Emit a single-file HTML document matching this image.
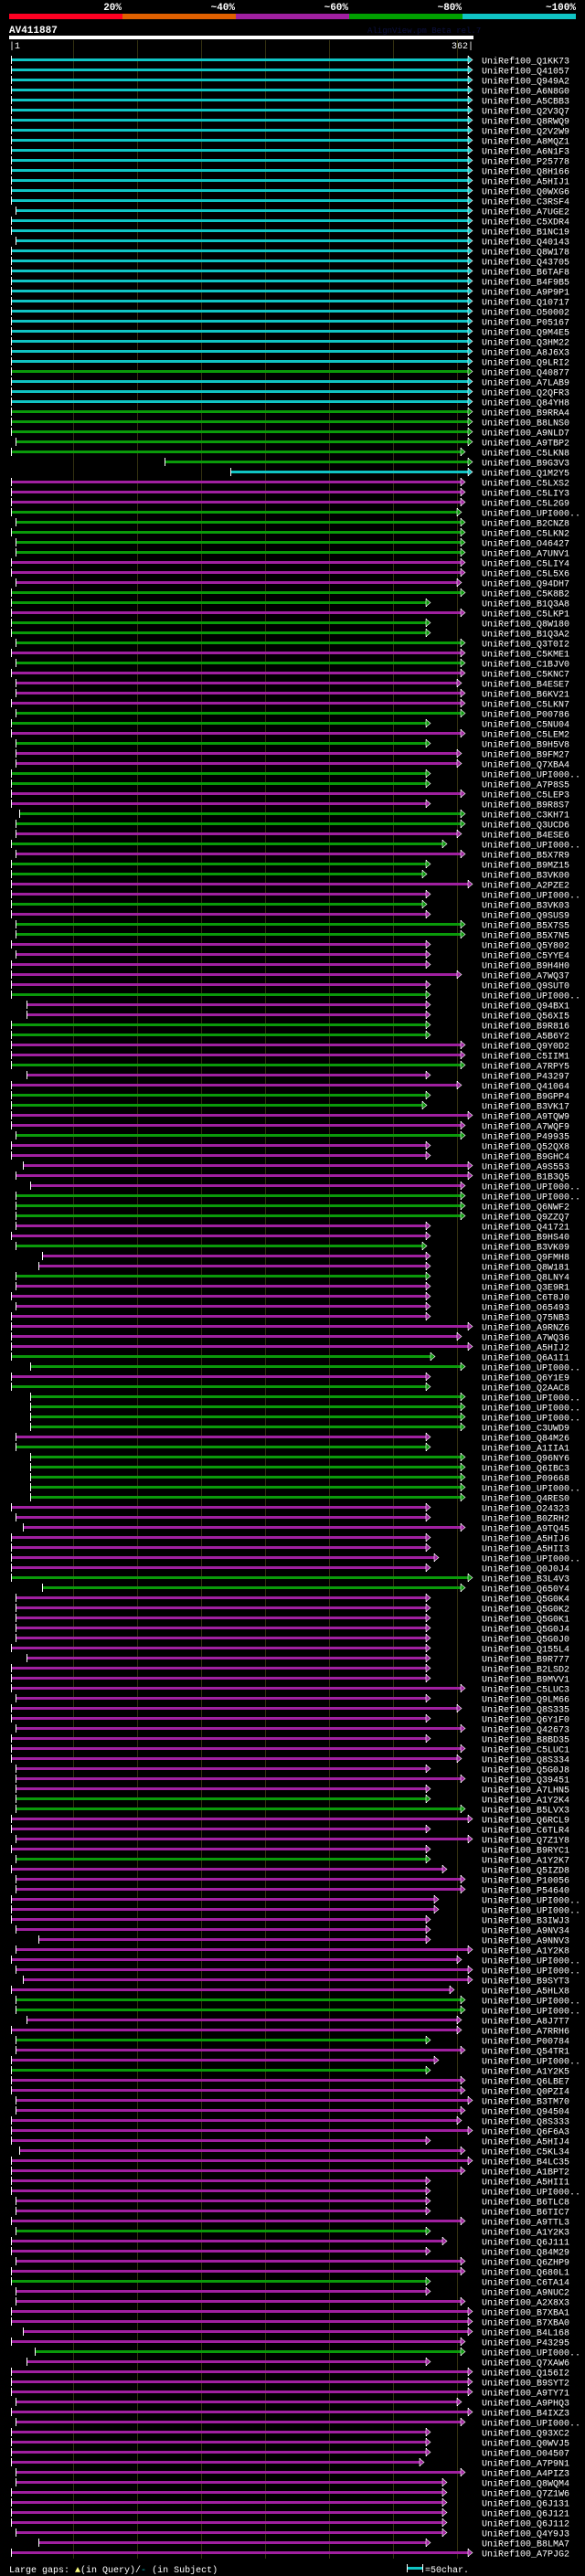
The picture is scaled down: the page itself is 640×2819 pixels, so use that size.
<!DOCTYPE html>
<html><head><meta charset="utf-8"><style>
body{margin:0;background:#000;width:640px;height:2819px;overflow:hidden}
svg{display:block}
text{font-family:"Liberation Mono",monospace;font-size:10px;fill:#fff}
.r rect.b{y:-1.5px;height:3px}
.r rect.t{y:-4.5px;height:9px;width:1px;fill:#fff}
.r text{font-size:10px}
.c rect.b,.c path{fill:#10c4c4}
.g rect.b,.g path{fill:#0a9a0a}
.m rect.b,.m path{fill:#a020a0}
path{stroke:#fff;stroke-width:0.6}
</style></head><body>
<svg width="640" height="2819" xmlns="http://www.w3.org/2000/svg">
<rect width="640" height="2819" fill="#000"/>
<g font-weight="bold" style="font-size:11px">
<text x="133" y="11" text-anchor="end" style="font-weight:bold;font-size:11px">20%</text>
<text x="257" y="11" text-anchor="end" style="font-weight:bold;font-size:11px">~40%</text>
<text x="381" y="11" text-anchor="end" style="font-weight:bold;font-size:11px">~60%</text>
<text x="505" y="11" text-anchor="end" style="font-weight:bold;font-size:11px">~80%</text>
<text x="630" y="11" text-anchor="end" style="font-weight:bold;font-size:11px">~100%</text>
</g>
<rect x="10" y="15" width="124" height="6" fill="#ff0022"/>
<rect x="134" y="15" width="124" height="6" fill="#e06000"/>
<rect x="258" y="15" width="124" height="6" fill="#a020a0"/>
<rect x="382" y="15" width="124" height="6" fill="#00a000"/>
<rect x="506" y="15" width="124" height="6" fill="#10c4c4"/>
<text x="10" y="36" style="font-weight:bold;font-size:11px">AV411887</text>
<text x="402" y="36" style="fill:#0c1040;font-size:9px">AlignView.pm Beta rel.7</text>
<rect x="10" y="39" width="508" height="4" fill="#fff"/>
<text x="10" y="53">|1</text>
<text x="518" y="53" text-anchor="end">362|</text>
<g stroke="#333010" stroke-width="1">
<line x1="80.5" y1="44" x2="80.5" y2="2800"/><line x1="150.5" y1="44" x2="150.5" y2="2800"/>
<line x1="220.5" y1="44" x2="220.5" y2="2800"/><line x1="290.5" y1="44" x2="290.5" y2="2800"/>
<line x1="360.5" y1="44" x2="360.5" y2="2800"/><line x1="430.5" y1="44" x2="430.5" y2="2800"/>
<line x1="500.5" y1="44" x2="500.5" y2="2800"/>
</g>
<g id="rows">
<g class="r c" transform="translate(0,65.5)"><rect class="b" x="12" width="500"/><rect class="t" x="12"/><rect class="t" x="512"/><path d="M512 -4v8l5 -4z"/><text x="527" y="4">UniRef100_Q1KK73</text></g>
<g class="r c" transform="translate(0,76.5)"><rect class="b" x="12" width="500"/><rect class="t" x="12"/><rect class="t" x="512"/><path d="M512 -4v8l5 -4z"/><text x="527" y="4">UniRef100_Q41057</text></g>
<g class="r c" transform="translate(0,87.5)"><rect class="b" x="12" width="500"/><rect class="t" x="12"/><rect class="t" x="512"/><path d="M512 -4v8l5 -4z"/><text x="527" y="4">UniRef100_Q949A2</text></g>
<g class="r c" transform="translate(0,98.5)"><rect class="b" x="12" width="500"/><rect class="t" x="12"/><rect class="t" x="512"/><path d="M512 -4v8l5 -4z"/><text x="527" y="4">UniRef100_A6N8G0</text></g>
<g class="r c" transform="translate(0,109.5)"><rect class="b" x="12" width="500"/><rect class="t" x="12"/><rect class="t" x="512"/><path d="M512 -4v8l5 -4z"/><text x="527" y="4">UniRef100_A5CBB3</text></g>
<g class="r c" transform="translate(0,120.5)"><rect class="b" x="12" width="500"/><rect class="t" x="12"/><rect class="t" x="512"/><path d="M512 -4v8l5 -4z"/><text x="527" y="4">UniRef100_Q2V3Q7</text></g>
<g class="r c" transform="translate(0,131.5)"><rect class="b" x="12" width="500"/><rect class="t" x="12"/><rect class="t" x="512"/><path d="M512 -4v8l5 -4z"/><text x="527" y="4">UniRef100_Q8RWQ9</text></g>
<g class="r c" transform="translate(0,142.5)"><rect class="b" x="12" width="500"/><rect class="t" x="12"/><rect class="t" x="512"/><path d="M512 -4v8l5 -4z"/><text x="527" y="4">UniRef100_Q2V2W9</text></g>
<g class="r c" transform="translate(0,153.5)"><rect class="b" x="12" width="500"/><rect class="t" x="12"/><rect class="t" x="512"/><path d="M512 -4v8l5 -4z"/><text x="527" y="4">UniRef100_A8MQZ1</text></g>
<g class="r c" transform="translate(0,164.5)"><rect class="b" x="12" width="500"/><rect class="t" x="12"/><rect class="t" x="512"/><path d="M512 -4v8l5 -4z"/><text x="527" y="4">UniRef100_A6N1F3</text></g>
<g class="r c" transform="translate(0,175.5)"><rect class="b" x="12" width="500"/><rect class="t" x="12"/><rect class="t" x="512"/><path d="M512 -4v8l5 -4z"/><text x="527" y="4">UniRef100_P25778</text></g>
<g class="r c" transform="translate(0,186.5)"><rect class="b" x="12" width="500"/><rect class="t" x="12"/><rect class="t" x="512"/><path d="M512 -4v8l5 -4z"/><text x="527" y="4">UniRef100_Q8H166</text></g>
<g class="r c" transform="translate(0,197.5)"><rect class="b" x="12" width="500"/><rect class="t" x="12"/><rect class="t" x="512"/><path d="M512 -4v8l5 -4z"/><text x="527" y="4">UniRef100_A5HIJ1</text></g>
<g class="r c" transform="translate(0,208.5)"><rect class="b" x="12" width="500"/><rect class="t" x="12"/><rect class="t" x="512"/><path d="M512 -4v8l5 -4z"/><text x="527" y="4">UniRef100_Q0WXG6</text></g>
<g class="r c" transform="translate(0,219.5)"><rect class="b" x="12" width="500"/><rect class="t" x="12"/><rect class="t" x="512"/><path d="M512 -4v8l5 -4z"/><text x="527" y="4">UniRef100_C3RSF4</text></g>
<g class="r c" transform="translate(0,230.5)"><rect class="b" x="17" width="495"/><rect class="t" x="17"/><rect class="t" x="512"/><path d="M512 -4v8l5 -4z"/><text x="527" y="4">UniRef100_A7UGE2</text></g>
<g class="r c" transform="translate(0,241.5)"><rect class="b" x="12" width="500"/><rect class="t" x="12"/><rect class="t" x="512"/><path d="M512 -4v8l5 -4z"/><text x="527" y="4">UniRef100_C5XDR4</text></g>
<g class="r c" transform="translate(0,252.5)"><rect class="b" x="12" width="500"/><rect class="t" x="12"/><rect class="t" x="512"/><path d="M512 -4v8l5 -4z"/><text x="527" y="4">UniRef100_B1NC19</text></g>
<g class="r c" transform="translate(0,263.5)"><rect class="b" x="17" width="495"/><rect class="t" x="17"/><rect class="t" x="512"/><path d="M512 -4v8l5 -4z"/><text x="527" y="4">UniRef100_Q40143</text></g>
<g class="r c" transform="translate(0,274.5)"><rect class="b" x="12" width="500"/><rect class="t" x="12"/><rect class="t" x="512"/><path d="M512 -4v8l5 -4z"/><text x="527" y="4">UniRef100_Q8W178</text></g>
<g class="r c" transform="translate(0,285.5)"><rect class="b" x="12" width="500"/><rect class="t" x="12"/><rect class="t" x="512"/><path d="M512 -4v8l5 -4z"/><text x="527" y="4">UniRef100_Q43705</text></g>
<g class="r c" transform="translate(0,296.5)"><rect class="b" x="12" width="500"/><rect class="t" x="12"/><rect class="t" x="512"/><path d="M512 -4v8l5 -4z"/><text x="527" y="4">UniRef100_B6TAF8</text></g>
<g class="r c" transform="translate(0,307.5)"><rect class="b" x="12" width="500"/><rect class="t" x="12"/><rect class="t" x="512"/><path d="M512 -4v8l5 -4z"/><text x="527" y="4">UniRef100_B4F9B5</text></g>
<g class="r c" transform="translate(0,318.5)"><rect class="b" x="12" width="500"/><rect class="t" x="12"/><rect class="t" x="512"/><path d="M512 -4v8l5 -4z"/><text x="527" y="4">UniRef100_A9P9P1</text></g>
<g class="r c" transform="translate(0,329.5)"><rect class="b" x="12" width="500"/><rect class="t" x="12"/><rect class="t" x="512"/><path d="M512 -4v8l5 -4z"/><text x="527" y="4">UniRef100_Q10717</text></g>
<g class="r c" transform="translate(0,340.5)"><rect class="b" x="12" width="500"/><rect class="t" x="12"/><rect class="t" x="512"/><path d="M512 -4v8l5 -4z"/><text x="527" y="4">UniRef100_O50002</text></g>
<g class="r c" transform="translate(0,351.5)"><rect class="b" x="12" width="500"/><rect class="t" x="12"/><rect class="t" x="512"/><path d="M512 -4v8l5 -4z"/><text x="527" y="4">UniRef100_P05167</text></g>
<g class="r c" transform="translate(0,362.5)"><rect class="b" x="12" width="500"/><rect class="t" x="12"/><rect class="t" x="512"/><path d="M512 -4v8l5 -4z"/><text x="527" y="4">UniRef100_Q9M4E5</text></g>
<g class="r c" transform="translate(0,373.5)"><rect class="b" x="12" width="500"/><rect class="t" x="12"/><rect class="t" x="512"/><path d="M512 -4v8l5 -4z"/><text x="527" y="4">UniRef100_Q3HM22</text></g>
<g class="r c" transform="translate(0,384.5)"><rect class="b" x="12" width="500"/><rect class="t" x="12"/><rect class="t" x="512"/><path d="M512 -4v8l5 -4z"/><text x="527" y="4">UniRef100_A8J6X3</text></g>
<g class="r c" transform="translate(0,395.5)"><rect class="b" x="12" width="500"/><rect class="t" x="12"/><rect class="t" x="512"/><path d="M512 -4v8l5 -4z"/><text x="527" y="4">UniRef100_Q9LRI2</text></g>
<g class="r g" transform="translate(0,406.5)"><rect class="b" x="12" width="500"/><rect class="t" x="12"/><rect class="t" x="512"/><path d="M512 -4v8l5 -4z"/><text x="527" y="4">UniRef100_Q40877</text></g>
<g class="r c" transform="translate(0,417.5)"><rect class="b" x="12" width="500"/><rect class="t" x="12"/><rect class="t" x="512"/><path d="M512 -4v8l5 -4z"/><text x="527" y="4">UniRef100_A7LAB9</text></g>
<g class="r c" transform="translate(0,428.5)"><rect class="b" x="12" width="500"/><rect class="t" x="12"/><rect class="t" x="512"/><path d="M512 -4v8l5 -4z"/><text x="527" y="4">UniRef100_Q2QFR3</text></g>
<g class="r c" transform="translate(0,439.5)"><rect class="b" x="12" width="500"/><rect class="t" x="12"/><rect class="t" x="512"/><path d="M512 -4v8l5 -4z"/><text x="527" y="4">UniRef100_Q84YH8</text></g>
<g class="r g" transform="translate(0,450.5)"><rect class="b" x="12" width="500"/><rect class="t" x="12"/><rect class="t" x="512"/><path d="M512 -4v8l5 -4z"/><text x="527" y="4">UniRef100_B9RRA4</text></g>
<g class="r g" transform="translate(0,461.5)"><rect class="b" x="12" width="500"/><rect class="t" x="12"/><rect class="t" x="512"/><path d="M512 -4v8l5 -4z"/><text x="527" y="4">UniRef100_B8LNS0</text></g>
<g class="r g" transform="translate(0,472.5)"><rect class="b" x="12" width="500"/><rect class="t" x="12"/><rect class="t" x="512"/><path d="M512 -4v8l5 -4z"/><text x="527" y="4">UniRef100_A9NLD7</text></g>
<g class="r g" transform="translate(0,483.5)"><rect class="b" x="17" width="495"/><rect class="t" x="17"/><rect class="t" x="512"/><path d="M512 -4v8l5 -4z"/><text x="527" y="4">UniRef100_A9TBP2</text></g>
<g class="r g" transform="translate(0,494.5)"><rect class="b" x="12" width="492"/><rect class="t" x="12"/><rect class="t" x="504"/><path d="M504 -4v8l5 -4z"/><text x="527" y="4">UniRef100_C5LKN8</text></g>
<g class="r g" transform="translate(0,505.5)"><rect class="b" x="180" width="332"/><rect class="t" x="180"/><rect class="t" x="512"/><path d="M512 -4v8l5 -4z"/><text x="527" y="4">UniRef100_B9G3V3</text></g>
<g class="r c" transform="translate(0,516.5)"><rect class="b" x="252" width="260"/><rect class="t" x="252"/><rect class="t" x="512"/><path d="M512 -4v8l5 -4z"/><text x="527" y="4">UniRef100_Q1M2Y5</text></g>
<g class="r m" transform="translate(0,527.5)"><rect class="b" x="12" width="492"/><rect class="t" x="12"/><rect class="t" x="504"/><path d="M504 -4v8l5 -4z"/><text x="527" y="4">UniRef100_C5LXS2</text></g>
<g class="r m" transform="translate(0,538.5)"><rect class="b" x="12" width="492"/><rect class="t" x="12"/><rect class="t" x="504"/><path d="M504 -4v8l5 -4z"/><text x="527" y="4">UniRef100_C5LIY3</text></g>
<g class="r m" transform="translate(0,549.5)"><rect class="b" x="12" width="492"/><rect class="t" x="12"/><rect class="t" x="504"/><path d="M504 -4v8l5 -4z"/><text x="527" y="4">UniRef100_C5L2G9</text></g>
<g class="r g" transform="translate(0,560.5)"><rect class="b" x="12" width="488"/><rect class="t" x="12"/><rect class="t" x="500"/><path d="M500 -4v8l5 -4z"/><text x="527" y="4">UniRef100_UPI000..</text></g>
<g class="r g" transform="translate(0,571.5)"><rect class="b" x="17" width="487"/><rect class="t" x="17"/><rect class="t" x="504"/><path d="M504 -4v8l5 -4z"/><text x="527" y="4">UniRef100_B2CNZ8</text></g>
<g class="r g" transform="translate(0,582.5)"><rect class="b" x="12" width="492"/><rect class="t" x="12"/><rect class="t" x="504"/><path d="M504 -4v8l5 -4z"/><text x="527" y="4">UniRef100_C5LKN2</text></g>
<g class="r g" transform="translate(0,593.5)"><rect class="b" x="17" width="487"/><rect class="t" x="17"/><rect class="t" x="504"/><path d="M504 -4v8l5 -4z"/><text x="527" y="4">UniRef100_O46427</text></g>
<g class="r g" transform="translate(0,604.5)"><rect class="b" x="17" width="487"/><rect class="t" x="17"/><rect class="t" x="504"/><path d="M504 -4v8l5 -4z"/><text x="527" y="4">UniRef100_A7UNV1</text></g>
<g class="r m" transform="translate(0,615.5)"><rect class="b" x="12" width="492"/><rect class="t" x="12"/><rect class="t" x="504"/><path d="M504 -4v8l5 -4z"/><text x="527" y="4">UniRef100_C5LIY4</text></g>
<g class="r m" transform="translate(0,626.5)"><rect class="b" x="12" width="492"/><rect class="t" x="12"/><rect class="t" x="504"/><path d="M504 -4v8l5 -4z"/><text x="527" y="4">UniRef100_C5L5X6</text></g>
<g class="r m" transform="translate(0,637.5)"><rect class="b" x="17" width="483"/><rect class="t" x="17"/><rect class="t" x="500"/><path d="M500 -4v8l5 -4z"/><text x="527" y="4">UniRef100_Q94DH7</text></g>
<g class="r g" transform="translate(0,648.5)"><rect class="b" x="12" width="492"/><rect class="t" x="12"/><rect class="t" x="504"/><path d="M504 -4v8l5 -4z"/><text x="527" y="4">UniRef100_C5K8B2</text></g>
<g class="r g" transform="translate(0,659.5)"><rect class="b" x="12" width="454"/><rect class="t" x="12"/><rect class="t" x="466"/><path d="M466 -4v8l5 -4z"/><text x="527" y="4">UniRef100_B1Q3A8</text></g>
<g class="r m" transform="translate(0,670.5)"><rect class="b" x="12" width="492"/><rect class="t" x="12"/><rect class="t" x="504"/><path d="M504 -4v8l5 -4z"/><text x="527" y="4">UniRef100_C5LKP1</text></g>
<g class="r g" transform="translate(0,681.5)"><rect class="b" x="12" width="454"/><rect class="t" x="12"/><rect class="t" x="466"/><path d="M466 -4v8l5 -4z"/><text x="527" y="4">UniRef100_Q8W180</text></g>
<g class="r g" transform="translate(0,692.5)"><rect class="b" x="12" width="454"/><rect class="t" x="12"/><rect class="t" x="466"/><path d="M466 -4v8l5 -4z"/><text x="527" y="4">UniRef100_B1Q3A2</text></g>
<g class="r g" transform="translate(0,703.5)"><rect class="b" x="17" width="487"/><rect class="t" x="17"/><rect class="t" x="504"/><path d="M504 -4v8l5 -4z"/><text x="527" y="4">UniRef100_Q3T0I2</text></g>
<g class="r m" transform="translate(0,714.5)"><rect class="b" x="12" width="492"/><rect class="t" x="12"/><rect class="t" x="504"/><path d="M504 -4v8l5 -4z"/><text x="527" y="4">UniRef100_C5KME1</text></g>
<g class="r g" transform="translate(0,725.5)"><rect class="b" x="17" width="487"/><rect class="t" x="17"/><rect class="t" x="504"/><path d="M504 -4v8l5 -4z"/><text x="527" y="4">UniRef100_C1BJV0</text></g>
<g class="r m" transform="translate(0,736.5)"><rect class="b" x="12" width="492"/><rect class="t" x="12"/><rect class="t" x="504"/><path d="M504 -4v8l5 -4z"/><text x="527" y="4">UniRef100_C5KNC7</text></g>
<g class="r m" transform="translate(0,747.5)"><rect class="b" x="17" width="483"/><rect class="t" x="17"/><rect class="t" x="500"/><path d="M500 -4v8l5 -4z"/><text x="527" y="4">UniRef100_B4ESE7</text></g>
<g class="r m" transform="translate(0,758.5)"><rect class="b" x="17" width="487"/><rect class="t" x="17"/><rect class="t" x="504"/><path d="M504 -4v8l5 -4z"/><text x="527" y="4">UniRef100_B6KV21</text></g>
<g class="r m" transform="translate(0,769.5)"><rect class="b" x="12" width="492"/><rect class="t" x="12"/><rect class="t" x="504"/><path d="M504 -4v8l5 -4z"/><text x="527" y="4">UniRef100_C5LKN7</text></g>
<g class="r g" transform="translate(0,780.5)"><rect class="b" x="17" width="487"/><rect class="t" x="17"/><rect class="t" x="504"/><path d="M504 -4v8l5 -4z"/><text x="527" y="4">UniRef100_P00786</text></g>
<g class="r g" transform="translate(0,791.5)"><rect class="b" x="12" width="454"/><rect class="t" x="12"/><rect class="t" x="466"/><path d="M466 -4v8l5 -4z"/><text x="527" y="4">UniRef100_C5NU04</text></g>
<g class="r m" transform="translate(0,802.5)"><rect class="b" x="12" width="492"/><rect class="t" x="12"/><rect class="t" x="504"/><path d="M504 -4v8l5 -4z"/><text x="527" y="4">UniRef100_C5LEM2</text></g>
<g class="r g" transform="translate(0,813.5)"><rect class="b" x="17" width="449"/><rect class="t" x="17"/><rect class="t" x="466"/><path d="M466 -4v8l5 -4z"/><text x="527" y="4">UniRef100_B9H5V8</text></g>
<g class="r m" transform="translate(0,824.5)"><rect class="b" x="17" width="483"/><rect class="t" x="17"/><rect class="t" x="500"/><path d="M500 -4v8l5 -4z"/><text x="527" y="4">UniRef100_B9FM27</text></g>
<g class="r m" transform="translate(0,835.5)"><rect class="b" x="17" width="483"/><rect class="t" x="17"/><rect class="t" x="500"/><path d="M500 -4v8l5 -4z"/><text x="527" y="4">UniRef100_Q7XBA4</text></g>
<g class="r g" transform="translate(0,846.5)"><rect class="b" x="12" width="454"/><rect class="t" x="12"/><rect class="t" x="466"/><path d="M466 -4v8l5 -4z"/><text x="527" y="4">UniRef100_UPI000..</text></g>
<g class="r g" transform="translate(0,857.5)"><rect class="b" x="12" width="454"/><rect class="t" x="12"/><rect class="t" x="466"/><path d="M466 -4v8l5 -4z"/><text x="527" y="4">UniRef100_A7P8S5</text></g>
<g class="r m" transform="translate(0,868.5)"><rect class="b" x="12" width="492"/><rect class="t" x="12"/><rect class="t" x="504"/><path d="M504 -4v8l5 -4z"/><text x="527" y="4">UniRef100_C5LEP3</text></g>
<g class="r m" transform="translate(0,879.5)"><rect class="b" x="12" width="454"/><rect class="t" x="12"/><rect class="t" x="466"/><path d="M466 -4v8l5 -4z"/><text x="527" y="4">UniRef100_B9R8S7</text></g>
<g class="r g" transform="translate(0,890.5)"><rect class="b" x="21" width="483"/><rect class="t" x="21"/><rect class="t" x="504"/><path d="M504 -4v8l5 -4z"/><text x="527" y="4">UniRef100_C3KH71</text></g>
<g class="r g" transform="translate(0,901.5)"><rect class="b" x="17" width="487"/><rect class="t" x="17"/><rect class="t" x="504"/><path d="M504 -4v8l5 -4z"/><text x="527" y="4">UniRef100_Q3UCD6</text></g>
<g class="r m" transform="translate(0,912.5)"><rect class="b" x="17" width="483"/><rect class="t" x="17"/><rect class="t" x="500"/><path d="M500 -4v8l5 -4z"/><text x="527" y="4">UniRef100_B4ESE6</text></g>
<g class="r g" transform="translate(0,923.5)"><rect class="b" x="12" width="472"/><rect class="t" x="12"/><rect class="t" x="484"/><path d="M484 -4v8l5 -4z"/><text x="527" y="4">UniRef100_UPI000..</text></g>
<g class="r m" transform="translate(0,934.5)"><rect class="b" x="17" width="487"/><rect class="t" x="17"/><rect class="t" x="504"/><path d="M504 -4v8l5 -4z"/><text x="527" y="4">UniRef100_B5X7R9</text></g>
<g class="r g" transform="translate(0,945.5)"><rect class="b" x="12" width="454"/><rect class="t" x="12"/><rect class="t" x="466"/><path d="M466 -4v8l5 -4z"/><text x="527" y="4">UniRef100_B9MZ15</text></g>
<g class="r g" transform="translate(0,956.5)"><rect class="b" x="12" width="450"/><rect class="t" x="12"/><rect class="t" x="462"/><path d="M462 -4v8l5 -4z"/><text x="527" y="4">UniRef100_B3VK00</text></g>
<g class="r m" transform="translate(0,967.5)"><rect class="b" x="12" width="500"/><rect class="t" x="12"/><rect class="t" x="512"/><path d="M512 -4v8l5 -4z"/><text x="527" y="4">UniRef100_A2PZE2</text></g>
<g class="r m" transform="translate(0,978.5)"><rect class="b" x="12" width="454"/><rect class="t" x="12"/><rect class="t" x="466"/><path d="M466 -4v8l5 -4z"/><text x="527" y="4">UniRef100_UPI000..</text></g>
<g class="r g" transform="translate(0,989.5)"><rect class="b" x="12" width="450"/><rect class="t" x="12"/><rect class="t" x="462"/><path d="M462 -4v8l5 -4z"/><text x="527" y="4">UniRef100_B3VK03</text></g>
<g class="r m" transform="translate(0,1000.5)"><rect class="b" x="12" width="454"/><rect class="t" x="12"/><rect class="t" x="466"/><path d="M466 -4v8l5 -4z"/><text x="527" y="4">UniRef100_Q9SUS9</text></g>
<g class="r g" transform="translate(0,1011.5)"><rect class="b" x="17" width="487"/><rect class="t" x="17"/><rect class="t" x="504"/><path d="M504 -4v8l5 -4z"/><text x="527" y="4">UniRef100_B5X7S5</text></g>
<g class="r g" transform="translate(0,1022.5)"><rect class="b" x="17" width="487"/><rect class="t" x="17"/><rect class="t" x="504"/><path d="M504 -4v8l5 -4z"/><text x="527" y="4">UniRef100_B5X7N5</text></g>
<g class="r m" transform="translate(0,1033.5)"><rect class="b" x="12" width="454"/><rect class="t" x="12"/><rect class="t" x="466"/><path d="M466 -4v8l5 -4z"/><text x="527" y="4">UniRef100_Q5Y802</text></g>
<g class="r m" transform="translate(0,1044.5)"><rect class="b" x="17" width="449"/><rect class="t" x="17"/><rect class="t" x="466"/><path d="M466 -4v8l5 -4z"/><text x="527" y="4">UniRef100_C5YYE4</text></g>
<g class="r m" transform="translate(0,1055.5)"><rect class="b" x="12" width="454"/><rect class="t" x="12"/><rect class="t" x="466"/><path d="M466 -4v8l5 -4z"/><text x="527" y="4">UniRef100_B9H4H0</text></g>
<g class="r m" transform="translate(0,1066.5)"><rect class="b" x="12" width="488"/><rect class="t" x="12"/><rect class="t" x="500"/><path d="M500 -4v8l5 -4z"/><text x="527" y="4">UniRef100_A7WQ37</text></g>
<g class="r m" transform="translate(0,1077.5)"><rect class="b" x="12" width="454"/><rect class="t" x="12"/><rect class="t" x="466"/><path d="M466 -4v8l5 -4z"/><text x="527" y="4">UniRef100_Q9SUT0</text></g>
<g class="r g" transform="translate(0,1088.5)"><rect class="b" x="12" width="454"/><rect class="t" x="12"/><rect class="t" x="466"/><path d="M466 -4v8l5 -4z"/><text x="527" y="4">UniRef100_UPI000..</text></g>
<g class="r m" transform="translate(0,1099.5)"><rect class="b" x="29" width="437"/><rect class="t" x="29"/><rect class="t" x="466"/><path d="M466 -4v8l5 -4z"/><text x="527" y="4">UniRef100_Q94BX1</text></g>
<g class="r m" transform="translate(0,1110.5)"><rect class="b" x="29" width="437"/><rect class="t" x="29"/><rect class="t" x="466"/><path d="M466 -4v8l5 -4z"/><text x="527" y="4">UniRef100_Q56XI5</text></g>
<g class="r g" transform="translate(0,1121.5)"><rect class="b" x="12" width="454"/><rect class="t" x="12"/><rect class="t" x="466"/><path d="M466 -4v8l5 -4z"/><text x="527" y="4">UniRef100_B9R816</text></g>
<g class="r g" transform="translate(0,1132.5)"><rect class="b" x="12" width="454"/><rect class="t" x="12"/><rect class="t" x="466"/><path d="M466 -4v8l5 -4z"/><text x="527" y="4">UniRef100_A5B6Y2</text></g>
<g class="r m" transform="translate(0,1143.5)"><rect class="b" x="12" width="492"/><rect class="t" x="12"/><rect class="t" x="504"/><path d="M504 -4v8l5 -4z"/><text x="527" y="4">UniRef100_Q9Y0D2</text></g>
<g class="r m" transform="translate(0,1154.5)"><rect class="b" x="12" width="492"/><rect class="t" x="12"/><rect class="t" x="504"/><path d="M504 -4v8l5 -4z"/><text x="527" y="4">UniRef100_C5IIM1</text></g>
<g class="r g" transform="translate(0,1165.5)"><rect class="b" x="12" width="492"/><rect class="t" x="12"/><rect class="t" x="504"/><path d="M504 -4v8l5 -4z"/><text x="527" y="4">UniRef100_A7RPY5</text></g>
<g class="r m" transform="translate(0,1176.5)"><rect class="b" x="29" width="437"/><rect class="t" x="29"/><rect class="t" x="466"/><path d="M466 -4v8l5 -4z"/><text x="527" y="4">UniRef100_P43297</text></g>
<g class="r m" transform="translate(0,1187.5)"><rect class="b" x="12" width="488"/><rect class="t" x="12"/><rect class="t" x="500"/><path d="M500 -4v8l5 -4z"/><text x="527" y="4">UniRef100_Q41064</text></g>
<g class="r g" transform="translate(0,1198.5)"><rect class="b" x="12" width="454"/><rect class="t" x="12"/><rect class="t" x="466"/><path d="M466 -4v8l5 -4z"/><text x="527" y="4">UniRef100_B9GPP4</text></g>
<g class="r g" transform="translate(0,1209.5)"><rect class="b" x="12" width="450"/><rect class="t" x="12"/><rect class="t" x="462"/><path d="M462 -4v8l5 -4z"/><text x="527" y="4">UniRef100_B3VK17</text></g>
<g class="r m" transform="translate(0,1220.5)"><rect class="b" x="12" width="500"/><rect class="t" x="12"/><rect class="t" x="512"/><path d="M512 -4v8l5 -4z"/><text x="527" y="4">UniRef100_A9TQW9</text></g>
<g class="r m" transform="translate(0,1231.5)"><rect class="b" x="12" width="492"/><rect class="t" x="12"/><rect class="t" x="504"/><path d="M504 -4v8l5 -4z"/><text x="527" y="4">UniRef100_A7WQF9</text></g>
<g class="r g" transform="translate(0,1242.5)"><rect class="b" x="17" width="487"/><rect class="t" x="17"/><rect class="t" x="504"/><path d="M504 -4v8l5 -4z"/><text x="527" y="4">UniRef100_P49935</text></g>
<g class="r m" transform="translate(0,1253.5)"><rect class="b" x="12" width="454"/><rect class="t" x="12"/><rect class="t" x="466"/><path d="M466 -4v8l5 -4z"/><text x="527" y="4">UniRef100_Q52QX8</text></g>
<g class="r m" transform="translate(0,1264.5)"><rect class="b" x="12" width="454"/><rect class="t" x="12"/><rect class="t" x="466"/><path d="M466 -4v8l5 -4z"/><text x="527" y="4">UniRef100_B9GHC4</text></g>
<g class="r m" transform="translate(0,1275.5)"><rect class="b" x="25" width="487"/><rect class="t" x="25"/><rect class="t" x="512"/><path d="M512 -4v8l5 -4z"/><text x="527" y="4">UniRef100_A9S553</text></g>
<g class="r m" transform="translate(0,1286.5)"><rect class="b" x="17" width="495"/><rect class="t" x="17"/><rect class="t" x="512"/><path d="M512 -4v8l5 -4z"/><text x="527" y="4">UniRef100_B1B3Q5</text></g>
<g class="r m" transform="translate(0,1297.5)"><rect class="b" x="33" width="471"/><rect class="t" x="33"/><rect class="t" x="504"/><path d="M504 -4v8l5 -4z"/><text x="527" y="4">UniRef100_UPI000..</text></g>
<g class="r g" transform="translate(0,1308.5)"><rect class="b" x="17" width="487"/><rect class="t" x="17"/><rect class="t" x="504"/><path d="M504 -4v8l5 -4z"/><text x="527" y="4">UniRef100_UPI000..</text></g>
<g class="r g" transform="translate(0,1319.5)"><rect class="b" x="17" width="487"/><rect class="t" x="17"/><rect class="t" x="504"/><path d="M504 -4v8l5 -4z"/><text x="527" y="4">UniRef100_Q6NWF2</text></g>
<g class="r g" transform="translate(0,1330.5)"><rect class="b" x="17" width="487"/><rect class="t" x="17"/><rect class="t" x="504"/><path d="M504 -4v8l5 -4z"/><text x="527" y="4">UniRef100_Q9ZZQ7</text></g>
<g class="r m" transform="translate(0,1341.5)"><rect class="b" x="17" width="449"/><rect class="t" x="17"/><rect class="t" x="466"/><path d="M466 -4v8l5 -4z"/><text x="527" y="4">UniRef100_Q41721</text></g>
<g class="r m" transform="translate(0,1352.5)"><rect class="b" x="12" width="454"/><rect class="t" x="12"/><rect class="t" x="466"/><path d="M466 -4v8l5 -4z"/><text x="527" y="4">UniRef100_B9HS40</text></g>
<g class="r g" transform="translate(0,1363.5)"><rect class="b" x="17" width="445"/><rect class="t" x="17"/><rect class="t" x="462"/><path d="M462 -4v8l5 -4z"/><text x="527" y="4">UniRef100_B3VK09</text></g>
<g class="r m" transform="translate(0,1374.5)"><rect class="b" x="46" width="420"/><rect class="t" x="46"/><rect class="t" x="466"/><path d="M466 -4v8l5 -4z"/><text x="527" y="4">UniRef100_Q9FMH8</text></g>
<g class="r m" transform="translate(0,1385.5)"><rect class="b" x="42" width="424"/><rect class="t" x="42"/><rect class="t" x="466"/><path d="M466 -4v8l5 -4z"/><text x="527" y="4">UniRef100_Q8W181</text></g>
<g class="r g" transform="translate(0,1396.5)"><rect class="b" x="17" width="449"/><rect class="t" x="17"/><rect class="t" x="466"/><path d="M466 -4v8l5 -4z"/><text x="527" y="4">UniRef100_Q8LNY4</text></g>
<g class="r m" transform="translate(0,1407.5)"><rect class="b" x="17" width="449"/><rect class="t" x="17"/><rect class="t" x="466"/><path d="M466 -4v8l5 -4z"/><text x="527" y="4">UniRef100_Q3E9R1</text></g>
<g class="r m" transform="translate(0,1418.5)"><rect class="b" x="12" width="454"/><rect class="t" x="12"/><rect class="t" x="466"/><path d="M466 -4v8l5 -4z"/><text x="527" y="4">UniRef100_C6T8J0</text></g>
<g class="r m" transform="translate(0,1429.5)"><rect class="b" x="17" width="449"/><rect class="t" x="17"/><rect class="t" x="466"/><path d="M466 -4v8l5 -4z"/><text x="527" y="4">UniRef100_O65493</text></g>
<g class="r m" transform="translate(0,1440.5)"><rect class="b" x="12" width="454"/><rect class="t" x="12"/><rect class="t" x="466"/><path d="M466 -4v8l5 -4z"/><text x="527" y="4">UniRef100_Q75NB3</text></g>
<g class="r m" transform="translate(0,1451.5)"><rect class="b" x="12" width="500"/><rect class="t" x="12"/><rect class="t" x="512"/><path d="M512 -4v8l5 -4z"/><text x="527" y="4">UniRef100_A9RNZ6</text></g>
<g class="r m" transform="translate(0,1462.5)"><rect class="b" x="12" width="488"/><rect class="t" x="12"/><rect class="t" x="500"/><path d="M500 -4v8l5 -4z"/><text x="527" y="4">UniRef100_A7WQ36</text></g>
<g class="r m" transform="translate(0,1473.5)"><rect class="b" x="12" width="500"/><rect class="t" x="12"/><rect class="t" x="512"/><path d="M512 -4v8l5 -4z"/><text x="527" y="4">UniRef100_A5HIJ2</text></g>
<g class="r g" transform="translate(0,1484.5)"><rect class="b" x="12" width="459"/><rect class="t" x="12"/><rect class="t" x="471"/><path d="M471 -4v8l5 -4z"/><text x="527" y="4">UniRef100_Q6A1I1</text></g>
<g class="r g" transform="translate(0,1495.5)"><rect class="b" x="33" width="471"/><rect class="t" x="33"/><rect class="t" x="504"/><path d="M504 -4v8l5 -4z"/><text x="527" y="4">UniRef100_UPI000..</text></g>
<g class="r m" transform="translate(0,1506.5)"><rect class="b" x="12" width="454"/><rect class="t" x="12"/><rect class="t" x="466"/><path d="M466 -4v8l5 -4z"/><text x="527" y="4">UniRef100_Q6Y1E9</text></g>
<g class="r g" transform="translate(0,1517.5)"><rect class="b" x="12" width="454"/><rect class="t" x="12"/><rect class="t" x="466"/><path d="M466 -4v8l5 -4z"/><text x="527" y="4">UniRef100_Q2AAC8</text></g>
<g class="r g" transform="translate(0,1528.5)"><rect class="b" x="33" width="471"/><rect class="t" x="33"/><rect class="t" x="504"/><path d="M504 -4v8l5 -4z"/><text x="527" y="4">UniRef100_UPI000..</text></g>
<g class="r g" transform="translate(0,1539.5)"><rect class="b" x="33" width="471"/><rect class="t" x="33"/><rect class="t" x="504"/><path d="M504 -4v8l5 -4z"/><text x="527" y="4">UniRef100_UPI000..</text></g>
<g class="r g" transform="translate(0,1550.5)"><rect class="b" x="33" width="471"/><rect class="t" x="33"/><rect class="t" x="504"/><path d="M504 -4v8l5 -4z"/><text x="527" y="4">UniRef100_UPI000..</text></g>
<g class="r g" transform="translate(0,1561.5)"><rect class="b" x="33" width="471"/><rect class="t" x="33"/><rect class="t" x="504"/><path d="M504 -4v8l5 -4z"/><text x="527" y="4">UniRef100_C3UWD9</text></g>
<g class="r m" transform="translate(0,1572.5)"><rect class="b" x="17" width="449"/><rect class="t" x="17"/><rect class="t" x="466"/><path d="M466 -4v8l5 -4z"/><text x="527" y="4">UniRef100_Q84M26</text></g>
<g class="r g" transform="translate(0,1583.5)"><rect class="b" x="17" width="449"/><rect class="t" x="17"/><rect class="t" x="466"/><path d="M466 -4v8l5 -4z"/><text x="527" y="4">UniRef100_A1IIA1</text></g>
<g class="r g" transform="translate(0,1594.5)"><rect class="b" x="33" width="471"/><rect class="t" x="33"/><rect class="t" x="504"/><path d="M504 -4v8l5 -4z"/><text x="527" y="4">UniRef100_Q96NY6</text></g>
<g class="r g" transform="translate(0,1605.5)"><rect class="b" x="33" width="471"/><rect class="t" x="33"/><rect class="t" x="504"/><path d="M504 -4v8l5 -4z"/><text x="527" y="4">UniRef100_Q6IBC3</text></g>
<g class="r g" transform="translate(0,1616.5)"><rect class="b" x="33" width="471"/><rect class="t" x="33"/><rect class="t" x="504"/><path d="M504 -4v8l5 -4z"/><text x="527" y="4">UniRef100_P09668</text></g>
<g class="r g" transform="translate(0,1627.5)"><rect class="b" x="33" width="471"/><rect class="t" x="33"/><rect class="t" x="504"/><path d="M504 -4v8l5 -4z"/><text x="527" y="4">UniRef100_UPI000..</text></g>
<g class="r g" transform="translate(0,1638.5)"><rect class="b" x="33" width="471"/><rect class="t" x="33"/><rect class="t" x="504"/><path d="M504 -4v8l5 -4z"/><text x="527" y="4">UniRef100_Q4RES0</text></g>
<g class="r m" transform="translate(0,1649.5)"><rect class="b" x="12" width="454"/><rect class="t" x="12"/><rect class="t" x="466"/><path d="M466 -4v8l5 -4z"/><text x="527" y="4">UniRef100_O24323</text></g>
<g class="r m" transform="translate(0,1660.5)"><rect class="b" x="17" width="449"/><rect class="t" x="17"/><rect class="t" x="466"/><path d="M466 -4v8l5 -4z"/><text x="527" y="4">UniRef100_B0ZRH2</text></g>
<g class="r m" transform="translate(0,1671.5)"><rect class="b" x="25" width="479"/><rect class="t" x="25"/><rect class="t" x="504"/><path d="M504 -4v8l5 -4z"/><text x="527" y="4">UniRef100_A9TQ45</text></g>
<g class="r m" transform="translate(0,1682.5)"><rect class="b" x="12" width="454"/><rect class="t" x="12"/><rect class="t" x="466"/><path d="M466 -4v8l5 -4z"/><text x="527" y="4">UniRef100_A5HIJ6</text></g>
<g class="r m" transform="translate(0,1693.5)"><rect class="b" x="12" width="454"/><rect class="t" x="12"/><rect class="t" x="466"/><path d="M466 -4v8l5 -4z"/><text x="527" y="4">UniRef100_A5HII3</text></g>
<g class="r m" transform="translate(0,1704.5)"><rect class="b" x="12" width="463"/><rect class="t" x="12"/><rect class="t" x="475"/><path d="M475 -4v8l5 -4z"/><text x="527" y="4">UniRef100_UPI000..</text></g>
<g class="r m" transform="translate(0,1715.5)"><rect class="b" x="12" width="454"/><rect class="t" x="12"/><rect class="t" x="466"/><path d="M466 -4v8l5 -4z"/><text x="527" y="4">UniRef100_Q0J0J4</text></g>
<g class="r g" transform="translate(0,1726.5)"><rect class="b" x="12" width="500"/><rect class="t" x="12"/><rect class="t" x="512"/><path d="M512 -4v8l5 -4z"/><text x="527" y="4">UniRef100_B3L4V3</text></g>
<g class="r g" transform="translate(0,1737.5)"><rect class="b" x="46" width="458"/><rect class="t" x="46"/><rect class="t" x="504"/><path d="M504 -4v8l5 -4z"/><text x="527" y="4">UniRef100_Q650Y4</text></g>
<g class="r m" transform="translate(0,1748.5)"><rect class="b" x="17" width="449"/><rect class="t" x="17"/><rect class="t" x="466"/><path d="M466 -4v8l5 -4z"/><text x="527" y="4">UniRef100_Q5G0K4</text></g>
<g class="r m" transform="translate(0,1759.5)"><rect class="b" x="17" width="449"/><rect class="t" x="17"/><rect class="t" x="466"/><path d="M466 -4v8l5 -4z"/><text x="527" y="4">UniRef100_Q5G0K2</text></g>
<g class="r m" transform="translate(0,1770.5)"><rect class="b" x="17" width="449"/><rect class="t" x="17"/><rect class="t" x="466"/><path d="M466 -4v8l5 -4z"/><text x="527" y="4">UniRef100_Q5G0K1</text></g>
<g class="r m" transform="translate(0,1781.5)"><rect class="b" x="17" width="449"/><rect class="t" x="17"/><rect class="t" x="466"/><path d="M466 -4v8l5 -4z"/><text x="527" y="4">UniRef100_Q5G0J4</text></g>
<g class="r m" transform="translate(0,1792.5)"><rect class="b" x="17" width="449"/><rect class="t" x="17"/><rect class="t" x="466"/><path d="M466 -4v8l5 -4z"/><text x="527" y="4">UniRef100_Q5G0J0</text></g>
<g class="r m" transform="translate(0,1803.5)"><rect class="b" x="12" width="454"/><rect class="t" x="12"/><rect class="t" x="466"/><path d="M466 -4v8l5 -4z"/><text x="527" y="4">UniRef100_Q155L4</text></g>
<g class="r m" transform="translate(0,1814.5)"><rect class="b" x="29" width="437"/><rect class="t" x="29"/><rect class="t" x="466"/><path d="M466 -4v8l5 -4z"/><text x="527" y="4">UniRef100_B9R777</text></g>
<g class="r m" transform="translate(0,1825.5)"><rect class="b" x="12" width="454"/><rect class="t" x="12"/><rect class="t" x="466"/><path d="M466 -4v8l5 -4z"/><text x="527" y="4">UniRef100_B2LSD2</text></g>
<g class="r m" transform="translate(0,1836.5)"><rect class="b" x="12" width="454"/><rect class="t" x="12"/><rect class="t" x="466"/><path d="M466 -4v8l5 -4z"/><text x="527" y="4">UniRef100_B9MVV1</text></g>
<g class="r m" transform="translate(0,1847.5)"><rect class="b" x="12" width="492"/><rect class="t" x="12"/><rect class="t" x="504"/><path d="M504 -4v8l5 -4z"/><text x="527" y="4">UniRef100_C5LUC3</text></g>
<g class="r m" transform="translate(0,1858.5)"><rect class="b" x="17" width="449"/><rect class="t" x="17"/><rect class="t" x="466"/><path d="M466 -4v8l5 -4z"/><text x="527" y="4">UniRef100_Q9LM66</text></g>
<g class="r m" transform="translate(0,1869.5)"><rect class="b" x="12" width="488"/><rect class="t" x="12"/><rect class="t" x="500"/><path d="M500 -4v8l5 -4z"/><text x="527" y="4">UniRef100_Q8S335</text></g>
<g class="r m" transform="translate(0,1880.5)"><rect class="b" x="12" width="454"/><rect class="t" x="12"/><rect class="t" x="466"/><path d="M466 -4v8l5 -4z"/><text x="527" y="4">UniRef100_Q6Y1F0</text></g>
<g class="r m" transform="translate(0,1891.5)"><rect class="b" x="17" width="487"/><rect class="t" x="17"/><rect class="t" x="504"/><path d="M504 -4v8l5 -4z"/><text x="527" y="4">UniRef100_Q42673</text></g>
<g class="r m" transform="translate(0,1902.5)"><rect class="b" x="12" width="454"/><rect class="t" x="12"/><rect class="t" x="466"/><path d="M466 -4v8l5 -4z"/><text x="527" y="4">UniRef100_B8BD35</text></g>
<g class="r m" transform="translate(0,1913.5)"><rect class="b" x="12" width="492"/><rect class="t" x="12"/><rect class="t" x="504"/><path d="M504 -4v8l5 -4z"/><text x="527" y="4">UniRef100_C5LUC1</text></g>
<g class="r m" transform="translate(0,1924.5)"><rect class="b" x="12" width="488"/><rect class="t" x="12"/><rect class="t" x="500"/><path d="M500 -4v8l5 -4z"/><text x="527" y="4">UniRef100_Q8S334</text></g>
<g class="r m" transform="translate(0,1935.5)"><rect class="b" x="17" width="449"/><rect class="t" x="17"/><rect class="t" x="466"/><path d="M466 -4v8l5 -4z"/><text x="527" y="4">UniRef100_Q5G0J8</text></g>
<g class="r m" transform="translate(0,1946.5)"><rect class="b" x="17" width="487"/><rect class="t" x="17"/><rect class="t" x="504"/><path d="M504 -4v8l5 -4z"/><text x="527" y="4">UniRef100_Q39451</text></g>
<g class="r m" transform="translate(0,1957.5)"><rect class="b" x="17" width="449"/><rect class="t" x="17"/><rect class="t" x="466"/><path d="M466 -4v8l5 -4z"/><text x="527" y="4">UniRef100_A7LHN5</text></g>
<g class="r g" transform="translate(0,1968.5)"><rect class="b" x="17" width="449"/><rect class="t" x="17"/><rect class="t" x="466"/><path d="M466 -4v8l5 -4z"/><text x="527" y="4">UniRef100_A1Y2K4</text></g>
<g class="r g" transform="translate(0,1979.5)"><rect class="b" x="17" width="487"/><rect class="t" x="17"/><rect class="t" x="504"/><path d="M504 -4v8l5 -4z"/><text x="527" y="4">UniRef100_B5LVX3</text></g>
<g class="r m" transform="translate(0,1990.5)"><rect class="b" x="12" width="500"/><rect class="t" x="12"/><rect class="t" x="512"/><path d="M512 -4v8l5 -4z"/><text x="527" y="4">UniRef100_Q6RCL9</text></g>
<g class="r m" transform="translate(0,2001.5)"><rect class="b" x="12" width="454"/><rect class="t" x="12"/><rect class="t" x="466"/><path d="M466 -4v8l5 -4z"/><text x="527" y="4">UniRef100_C6TLR4</text></g>
<g class="r m" transform="translate(0,2012.5)"><rect class="b" x="17" width="495"/><rect class="t" x="17"/><rect class="t" x="512"/><path d="M512 -4v8l5 -4z"/><text x="527" y="4">UniRef100_Q7Z1Y8</text></g>
<g class="r m" transform="translate(0,2023.5)"><rect class="b" x="12" width="454"/><rect class="t" x="12"/><rect class="t" x="466"/><path d="M466 -4v8l5 -4z"/><text x="527" y="4">UniRef100_B9RYC1</text></g>
<g class="r g" transform="translate(0,2034.5)"><rect class="b" x="17" width="449"/><rect class="t" x="17"/><rect class="t" x="466"/><path d="M466 -4v8l5 -4z"/><text x="527" y="4">UniRef100_A1Y2K7</text></g>
<g class="r m" transform="translate(0,2045.5)"><rect class="b" x="12" width="472"/><rect class="t" x="12"/><rect class="t" x="484"/><path d="M484 -4v8l5 -4z"/><text x="527" y="4">UniRef100_Q5IZD8</text></g>
<g class="r m" transform="translate(0,2056.5)"><rect class="b" x="17" width="487"/><rect class="t" x="17"/><rect class="t" x="504"/><path d="M504 -4v8l5 -4z"/><text x="527" y="4">UniRef100_P10056</text></g>
<g class="r m" transform="translate(0,2067.5)"><rect class="b" x="17" width="487"/><rect class="t" x="17"/><rect class="t" x="504"/><path d="M504 -4v8l5 -4z"/><text x="527" y="4">UniRef100_P54640</text></g>
<g class="r m" transform="translate(0,2078.5)"><rect class="b" x="12" width="463"/><rect class="t" x="12"/><rect class="t" x="475"/><path d="M475 -4v8l5 -4z"/><text x="527" y="4">UniRef100_UPI000..</text></g>
<g class="r m" transform="translate(0,2089.5)"><rect class="b" x="12" width="463"/><rect class="t" x="12"/><rect class="t" x="475"/><path d="M475 -4v8l5 -4z"/><text x="527" y="4">UniRef100_UPI000..</text></g>
<g class="r m" transform="translate(0,2100.5)"><rect class="b" x="12" width="454"/><rect class="t" x="12"/><rect class="t" x="466"/><path d="M466 -4v8l5 -4z"/><text x="527" y="4">UniRef100_B3IWJ3</text></g>
<g class="r m" transform="translate(0,2111.5)"><rect class="b" x="17" width="449"/><rect class="t" x="17"/><rect class="t" x="466"/><path d="M466 -4v8l5 -4z"/><text x="527" y="4">UniRef100_A9NV34</text></g>
<g class="r m" transform="translate(0,2122.5)"><rect class="b" x="42" width="424"/><rect class="t" x="42"/><rect class="t" x="466"/><path d="M466 -4v8l5 -4z"/><text x="527" y="4">UniRef100_A9NNV3</text></g>
<g class="r m" transform="translate(0,2133.5)"><rect class="b" x="17" width="495"/><rect class="t" x="17"/><rect class="t" x="512"/><path d="M512 -4v8l5 -4z"/><text x="527" y="4">UniRef100_A1Y2K8</text></g>
<g class="r m" transform="translate(0,2144.5)"><rect class="b" x="12" width="488"/><rect class="t" x="12"/><rect class="t" x="500"/><path d="M500 -4v8l5 -4z"/><text x="527" y="4">UniRef100_UPI000..</text></g>
<g class="r m" transform="translate(0,2155.5)"><rect class="b" x="17" width="495"/><rect class="t" x="17"/><rect class="t" x="512"/><path d="M512 -4v8l5 -4z"/><text x="527" y="4">UniRef100_UPI000..</text></g>
<g class="r m" transform="translate(0,2166.5)"><rect class="b" x="25" width="487"/><rect class="t" x="25"/><rect class="t" x="512"/><path d="M512 -4v8l5 -4z"/><text x="527" y="4">UniRef100_B9SYT3</text></g>
<g class="r m" transform="translate(0,2177.5)"><rect class="b" x="12" width="480"/><rect class="t" x="12"/><rect class="t" x="492"/><path d="M492 -4v8l5 -4z"/><text x="527" y="4">UniRef100_A5HLX8</text></g>
<g class="r g" transform="translate(0,2188.5)"><rect class="b" x="17" width="487"/><rect class="t" x="17"/><rect class="t" x="504"/><path d="M504 -4v8l5 -4z"/><text x="527" y="4">UniRef100_UPI000..</text></g>
<g class="r g" transform="translate(0,2199.5)"><rect class="b" x="17" width="487"/><rect class="t" x="17"/><rect class="t" x="504"/><path d="M504 -4v8l5 -4z"/><text x="527" y="4">UniRef100_UPI000..</text></g>
<g class="r m" transform="translate(0,2210.5)"><rect class="b" x="29" width="471"/><rect class="t" x="29"/><rect class="t" x="500"/><path d="M500 -4v8l5 -4z"/><text x="527" y="4">UniRef100_A8J7T7</text></g>
<g class="r m" transform="translate(0,2221.5)"><rect class="b" x="12" width="488"/><rect class="t" x="12"/><rect class="t" x="500"/><path d="M500 -4v8l5 -4z"/><text x="527" y="4">UniRef100_A7RRH6</text></g>
<g class="r g" transform="translate(0,2232.5)"><rect class="b" x="17" width="449"/><rect class="t" x="17"/><rect class="t" x="466"/><path d="M466 -4v8l5 -4z"/><text x="527" y="4">UniRef100_P00784</text></g>
<g class="r m" transform="translate(0,2243.5)"><rect class="b" x="17" width="487"/><rect class="t" x="17"/><rect class="t" x="504"/><path d="M504 -4v8l5 -4z"/><text x="527" y="4">UniRef100_Q54TR1</text></g>
<g class="r m" transform="translate(0,2254.5)"><rect class="b" x="12" width="463"/><rect class="t" x="12"/><rect class="t" x="475"/><path d="M475 -4v8l5 -4z"/><text x="527" y="4">UniRef100_UPI000..</text></g>
<g class="r g" transform="translate(0,2265.5)"><rect class="b" x="12" width="454"/><rect class="t" x="12"/><rect class="t" x="466"/><path d="M466 -4v8l5 -4z"/><text x="527" y="4">UniRef100_A1Y2K5</text></g>
<g class="r m" transform="translate(0,2276.5)"><rect class="b" x="12" width="492"/><rect class="t" x="12"/><rect class="t" x="504"/><path d="M504 -4v8l5 -4z"/><text x="527" y="4">UniRef100_Q6LBE7</text></g>
<g class="r m" transform="translate(0,2287.5)"><rect class="b" x="12" width="492"/><rect class="t" x="12"/><rect class="t" x="504"/><path d="M504 -4v8l5 -4z"/><text x="527" y="4">UniRef100_Q0PZI4</text></g>
<g class="r m" transform="translate(0,2298.5)"><rect class="b" x="17" width="495"/><rect class="t" x="17"/><rect class="t" x="512"/><path d="M512 -4v8l5 -4z"/><text x="527" y="4">UniRef100_B3TM70</text></g>
<g class="r m" transform="translate(0,2309.5)"><rect class="b" x="17" width="487"/><rect class="t" x="17"/><rect class="t" x="504"/><path d="M504 -4v8l5 -4z"/><text x="527" y="4">UniRef100_Q94504</text></g>
<g class="r m" transform="translate(0,2320.5)"><rect class="b" x="12" width="488"/><rect class="t" x="12"/><rect class="t" x="500"/><path d="M500 -4v8l5 -4z"/><text x="527" y="4">UniRef100_Q8S333</text></g>
<g class="r m" transform="translate(0,2331.5)"><rect class="b" x="12" width="500"/><rect class="t" x="12"/><rect class="t" x="512"/><path d="M512 -4v8l5 -4z"/><text x="527" y="4">UniRef100_Q6F6A3</text></g>
<g class="r m" transform="translate(0,2342.5)"><rect class="b" x="12" width="454"/><rect class="t" x="12"/><rect class="t" x="466"/><path d="M466 -4v8l5 -4z"/><text x="527" y="4">UniRef100_A5HIJ4</text></g>
<g class="r m" transform="translate(0,2353.5)"><rect class="b" x="21" width="483"/><rect class="t" x="21"/><rect class="t" x="504"/><path d="M504 -4v8l5 -4z"/><text x="527" y="4">UniRef100_C5KL34</text></g>
<g class="r m" transform="translate(0,2364.5)"><rect class="b" x="12" width="500"/><rect class="t" x="12"/><rect class="t" x="512"/><path d="M512 -4v8l5 -4z"/><text x="527" y="4">UniRef100_B4LC35</text></g>
<g class="r m" transform="translate(0,2375.5)"><rect class="b" x="12" width="492"/><rect class="t" x="12"/><rect class="t" x="504"/><path d="M504 -4v8l5 -4z"/><text x="527" y="4">UniRef100_A1BPT2</text></g>
<g class="r m" transform="translate(0,2386.5)"><rect class="b" x="12" width="454"/><rect class="t" x="12"/><rect class="t" x="466"/><path d="M466 -4v8l5 -4z"/><text x="527" y="4">UniRef100_A5HII1</text></g>
<g class="r m" transform="translate(0,2397.5)"><rect class="b" x="12" width="454"/><rect class="t" x="12"/><rect class="t" x="466"/><path d="M466 -4v8l5 -4z"/><text x="527" y="4">UniRef100_UPI000..</text></g>
<g class="r m" transform="translate(0,2408.5)"><rect class="b" x="17" width="449"/><rect class="t" x="17"/><rect class="t" x="466"/><path d="M466 -4v8l5 -4z"/><text x="527" y="4">UniRef100_B6TLC8</text></g>
<g class="r m" transform="translate(0,2419.5)"><rect class="b" x="17" width="449"/><rect class="t" x="17"/><rect class="t" x="466"/><path d="M466 -4v8l5 -4z"/><text x="527" y="4">UniRef100_B6TIC7</text></g>
<g class="r m" transform="translate(0,2430.5)"><rect class="b" x="12" width="492"/><rect class="t" x="12"/><rect class="t" x="504"/><path d="M504 -4v8l5 -4z"/><text x="527" y="4">UniRef100_A9TTL3</text></g>
<g class="r g" transform="translate(0,2441.5)"><rect class="b" x="17" width="449"/><rect class="t" x="17"/><rect class="t" x="466"/><path d="M466 -4v8l5 -4z"/><text x="527" y="4">UniRef100_A1Y2K3</text></g>
<g class="r m" transform="translate(0,2452.5)"><rect class="b" x="12" width="472"/><rect class="t" x="12"/><rect class="t" x="484"/><path d="M484 -4v8l5 -4z"/><text x="527" y="4">UniRef100_Q6J111</text></g>
<g class="r m" transform="translate(0,2463.5)"><rect class="b" x="12" width="454"/><rect class="t" x="12"/><rect class="t" x="466"/><path d="M466 -4v8l5 -4z"/><text x="527" y="4">UniRef100_Q84M29</text></g>
<g class="r m" transform="translate(0,2474.5)"><rect class="b" x="17" width="487"/><rect class="t" x="17"/><rect class="t" x="504"/><path d="M504 -4v8l5 -4z"/><text x="527" y="4">UniRef100_Q6ZHP9</text></g>
<g class="r m" transform="translate(0,2485.5)"><rect class="b" x="12" width="492"/><rect class="t" x="12"/><rect class="t" x="504"/><path d="M504 -4v8l5 -4z"/><text x="527" y="4">UniRef100_Q680L1</text></g>
<g class="r g" transform="translate(0,2496.5)"><rect class="b" x="12" width="454"/><rect class="t" x="12"/><rect class="t" x="466"/><path d="M466 -4v8l5 -4z"/><text x="527" y="4">UniRef100_C6TA14</text></g>
<g class="r m" transform="translate(0,2507.5)"><rect class="b" x="17" width="449"/><rect class="t" x="17"/><rect class="t" x="466"/><path d="M466 -4v8l5 -4z"/><text x="527" y="4">UniRef100_A9NUC2</text></g>
<g class="r m" transform="translate(0,2518.5)"><rect class="b" x="17" width="487"/><rect class="t" x="17"/><rect class="t" x="504"/><path d="M504 -4v8l5 -4z"/><text x="527" y="4">UniRef100_A2X8X3</text></g>
<g class="r m" transform="translate(0,2529.5)"><rect class="b" x="12" width="500"/><rect class="t" x="12"/><rect class="t" x="512"/><path d="M512 -4v8l5 -4z"/><text x="527" y="4">UniRef100_B7XBA1</text></g>
<g class="r m" transform="translate(0,2540.5)"><rect class="b" x="12" width="500"/><rect class="t" x="12"/><rect class="t" x="512"/><path d="M512 -4v8l5 -4z"/><text x="527" y="4">UniRef100_B7XBA0</text></g>
<g class="r m" transform="translate(0,2551.5)"><rect class="b" x="25" width="487"/><rect class="t" x="25"/><rect class="t" x="512"/><path d="M512 -4v8l5 -4z"/><text x="527" y="4">UniRef100_B4L168</text></g>
<g class="r m" transform="translate(0,2562.5)"><rect class="b" x="12" width="492"/><rect class="t" x="12"/><rect class="t" x="504"/><path d="M504 -4v8l5 -4z"/><text x="527" y="4">UniRef100_P43295</text></g>
<g class="r g" transform="translate(0,2573.5)"><rect class="b" x="38" width="466"/><rect class="t" x="38"/><rect class="t" x="504"/><path d="M504 -4v8l5 -4z"/><text x="527" y="4">UniRef100_UPI000..</text></g>
<g class="r m" transform="translate(0,2584.5)"><rect class="b" x="29" width="437"/><rect class="t" x="29"/><rect class="t" x="466"/><path d="M466 -4v8l5 -4z"/><text x="527" y="4">UniRef100_Q7XAW6</text></g>
<g class="r m" transform="translate(0,2595.5)"><rect class="b" x="12" width="500"/><rect class="t" x="12"/><rect class="t" x="512"/><path d="M512 -4v8l5 -4z"/><text x="527" y="4">UniRef100_Q156I2</text></g>
<g class="r m" transform="translate(0,2606.5)"><rect class="b" x="12" width="500"/><rect class="t" x="12"/><rect class="t" x="512"/><path d="M512 -4v8l5 -4z"/><text x="527" y="4">UniRef100_B9SYT2</text></g>
<g class="r m" transform="translate(0,2617.5)"><rect class="b" x="12" width="500"/><rect class="t" x="12"/><rect class="t" x="512"/><path d="M512 -4v8l5 -4z"/><text x="527" y="4">UniRef100_A9TY71</text></g>
<g class="r m" transform="translate(0,2628.5)"><rect class="b" x="17" width="483"/><rect class="t" x="17"/><rect class="t" x="500"/><path d="M500 -4v8l5 -4z"/><text x="527" y="4">UniRef100_A9PHQ3</text></g>
<g class="r m" transform="translate(0,2639.5)"><rect class="b" x="12" width="500"/><rect class="t" x="12"/><rect class="t" x="512"/><path d="M512 -4v8l5 -4z"/><text x="527" y="4">UniRef100_B4IXZ3</text></g>
<g class="r m" transform="translate(0,2650.5)"><rect class="b" x="17" width="487"/><rect class="t" x="17"/><rect class="t" x="504"/><path d="M504 -4v8l5 -4z"/><text x="527" y="4">UniRef100_UPI000..</text></g>
<g class="r m" transform="translate(0,2661.5)"><rect class="b" x="12" width="454"/><rect class="t" x="12"/><rect class="t" x="466"/><path d="M466 -4v8l5 -4z"/><text x="527" y="4">UniRef100_Q93XC2</text></g>
<g class="r m" transform="translate(0,2672.5)"><rect class="b" x="12" width="454"/><rect class="t" x="12"/><rect class="t" x="466"/><path d="M466 -4v8l5 -4z"/><text x="527" y="4">UniRef100_Q0WVJ5</text></g>
<g class="r m" transform="translate(0,2683.5)"><rect class="b" x="12" width="454"/><rect class="t" x="12"/><rect class="t" x="466"/><path d="M466 -4v8l5 -4z"/><text x="527" y="4">UniRef100_O04507</text></g>
<g class="r m" transform="translate(0,2694.5)"><rect class="b" x="12" width="447"/><rect class="t" x="12"/><rect class="t" x="459"/><path d="M459 -4v8l5 -4z"/><text x="527" y="4">UniRef100_A7P9N1</text></g>
<g class="r m" transform="translate(0,2705.5)"><rect class="b" x="17" width="487"/><rect class="t" x="17"/><rect class="t" x="504"/><path d="M504 -4v8l5 -4z"/><text x="527" y="4">UniRef100_A4PIZ3</text></g>
<g class="r m" transform="translate(0,2716.5)"><rect class="b" x="17" width="467"/><rect class="t" x="17"/><rect class="t" x="484"/><path d="M484 -4v8l5 -4z"/><text x="527" y="4">UniRef100_Q8WQM4</text></g>
<g class="r m" transform="translate(0,2727.5)"><rect class="b" x="12" width="472"/><rect class="t" x="12"/><rect class="t" x="484"/><path d="M484 -4v8l5 -4z"/><text x="527" y="4">UniRef100_Q7Z1W6</text></g>
<g class="r m" transform="translate(0,2738.5)"><rect class="b" x="12" width="472"/><rect class="t" x="12"/><rect class="t" x="484"/><path d="M484 -4v8l5 -4z"/><text x="527" y="4">UniRef100_Q6J131</text></g>
<g class="r m" transform="translate(0,2749.5)"><rect class="b" x="12" width="472"/><rect class="t" x="12"/><rect class="t" x="484"/><path d="M484 -4v8l5 -4z"/><text x="527" y="4">UniRef100_Q6J121</text></g>
<g class="r m" transform="translate(0,2760.5)"><rect class="b" x="12" width="472"/><rect class="t" x="12"/><rect class="t" x="484"/><path d="M484 -4v8l5 -4z"/><text x="527" y="4">UniRef100_Q6J112</text></g>
<g class="r m" transform="translate(0,2771.5)"><rect class="b" x="17" width="467"/><rect class="t" x="17"/><rect class="t" x="484"/><path d="M484 -4v8l5 -4z"/><text x="527" y="4">UniRef100_Q4Y9J3</text></g>
<g class="r m" transform="translate(0,2782.5)"><rect class="b" x="42" width="424"/><rect class="t" x="42"/><rect class="t" x="466"/><path d="M466 -4v8l5 -4z"/><text x="527" y="4">UniRef100_B8LMA7</text></g>
<g class="r m" transform="translate(0,2793.5)"><rect class="b" x="12" width="500"/><rect class="t" x="12"/><rect class="t" x="512"/><path d="M512 -4v8l5 -4z"/><text x="527" y="4">UniRef100_A7PJG2</text></g>
</g>
<text x="10" y="2815">Large gaps: <tspan fill="#ffff80">▲</tspan>(in Query)/<tspan fill="#10c4c4">-</tspan> (in Subject)</text>
<rect x="445" y="2809" width="17" height="3" fill="#10c4c4"/>
<rect x="445" y="2806" width="1" height="9" fill="#fff"/>
<rect x="462" y="2806" width="1" height="9" fill="#fff"/>
<text x="465" y="2815">=50char.</text>
</svg>
</body></html>
